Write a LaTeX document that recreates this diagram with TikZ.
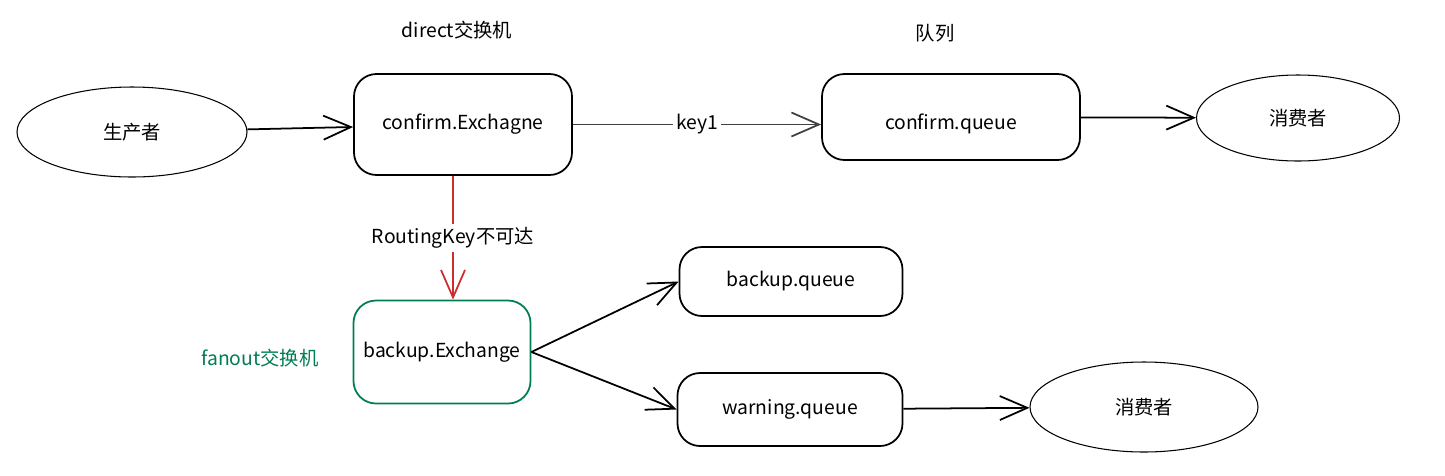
\documentclass[tikz,border=0pt]{standalone}
\usepackage{fontspec}
\setmainfont{Noto Sans CJK SC}
\usetikzlibrary{arrows.meta,shapes.geometric}

\definecolor{fangreen}{RGB}{0,125,85}
\definecolor{routred}{RGB}{205,45,45}

\begin{document}
\begin{tikzpicture}[x=0.2mm,y=-0.2mm,
  every node/.style={font=\fontsize{11}{13}\selectfont},
  box/.style={draw=black,line width=1pt,rounded corners=4.5mm,fill=white},
  oval/.style={draw=black,line width=0.6pt,ellipse},
  flow/.style={line width=1pt,-{Straight Barb[length=5.5mm,width=4.8mm,line width=1pt]}},
  tag/.style={fill=white,inner sep=2pt}]
  \useasboundingbox (0,0) rectangle (1445,475);

  % Erzeuger und Verbraucher
  \node[oval,minimum width=46mm,minimum height=18mm] (prod) at (132,132) {生产者};
  \node[oval,minimum width=40.6mm,minimum height=17.2mm] (cons1) at (1298,118) {消费者};
  \node[oval,minimum width=45.6mm,minimum height=18mm] (cons2) at (1144,407) {消费者};

  % Vermittlungen
  \node[box,minimum width=43.6mm,minimum height=20.2mm] (ex) at (463,124.5) {confirm.Exchagne};
  \node[box,draw=fangreen,minimum width=35.4mm,minimum height=20.6mm] (bex) at (442,352) {backup.Exchange};

  % Warteschlangen
  \node[box,minimum width=51.6mm,minimum height=17.2mm,text height=6mm,text depth=1mm] (cq) at (951,117) {confirm.queue};
  \node[box,minimum width=44.6mm,minimum height=13.8mm] (bq) at (791,281.5) {backup.queue};
  \node[box,minimum width=45mm,minimum height=14.6mm] (wq) at (790,409.5) {warning.queue};

  % Beschriftungen
  \node (dlab) at (457,30) {direct交换机};
  \node (qlab) at (935,33) {队列};
  \node[text=fangreen] (flab) at (260,358) {fanout交换机};

  % Kanten
  \draw[flow] (prod) -- (ex);
  \draw[flow,black!75] (ex.east) -- node[tag,text=black] {key1} (ex.east -| cq.west);
  \draw[flow] (cq) -- (cons1);
  \draw[flow,routred] ([xshift=-2mm]ex.south) -- node[tag,text=black] {RoutingKey不可达} ([xshift=2.2mm]bex.north);
  \foreach \to in {bq,wq}
    \draw[flow] (bex.east) -- (\to.west);
  \draw[flow] (wq) -- (cons2);
\end{tikzpicture}
\end{document}
